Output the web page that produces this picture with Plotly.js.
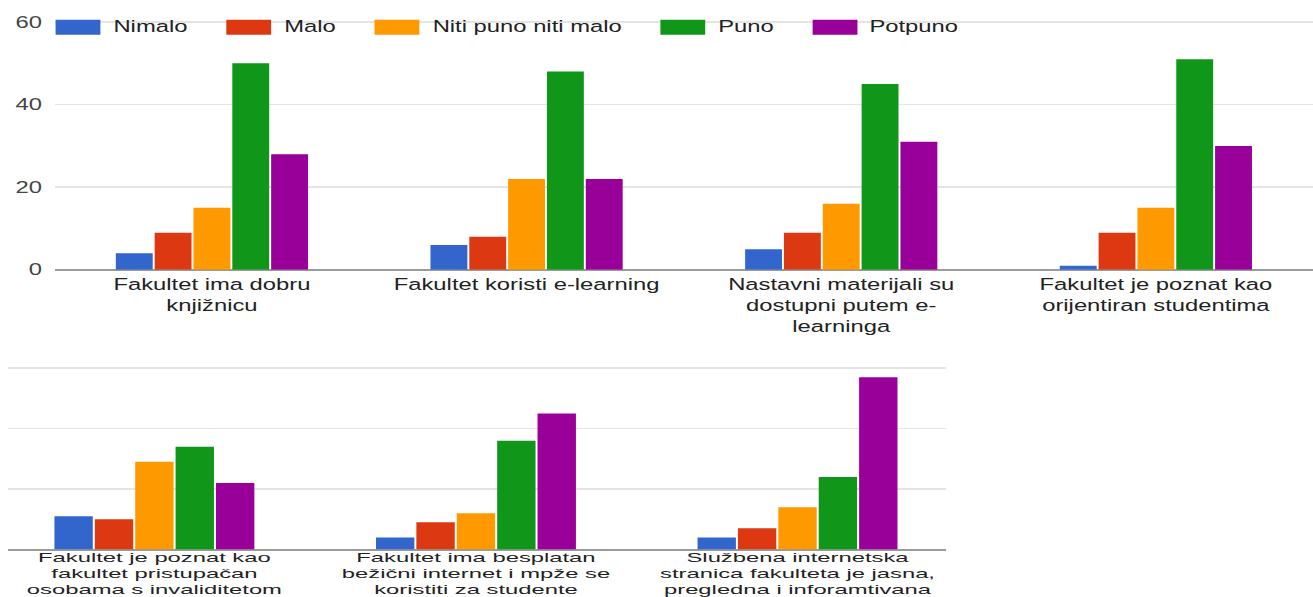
<!DOCTYPE html>
<html>
<head>
<meta charset="utf-8">
<script src="https://cdn.plot.ly/plotly-3.0.1.min.js"></script>
<style>
html, body { margin:0; padding:0; background:#fff; width:1313px; height:597px; overflow:hidden; }
.panel { position:absolute; left:0; transform-origin:0 0; }
#top { top:0; width:938px; height:358px; transform:scale(1.4, 0.95); }
#bottom { top:340px; width:938px; height:357px; transform:scale(1.4, 0.72); }
</style>
</head>
<body>
<div id="top" class="panel"></div>
<div id="bottom" class="panel"></div>
<script>
// ---- data ----
const seriesNames = ['Nimalo', 'Malo', 'Niti puno niti malo', 'Puno', 'Potpuno'];
const categories = [
  'Fakultet ima dobru<br>knjižnicu',
  'Fakultet koristi e-learning',
  'Nastavni materijali su<br>dostupni putem e-<br>learninga',
  'Fakultet je poznat kao<br>orijentiran studentima',
  'Fakultet je poznat kao<br>fakultet pristupačan<br>osobama s invaliditetom',
  'Fakultet ima besplatan<br>bežični internet i mpže se<br>koristiti za studente',
  'Službena internetska<br>stranica fakulteta je jasna,<br>pregledna i inforamtivana'
];
const nimalo  = [4, 6, 5, 1, 11, 4, 4];
const malo    = [9, 8, 9, 9, 10, 9, 7];
const niti    = [15, 22, 16, 15, 29, 12, 14];
const puno    = [50, 48, 45, 51, 34, 36, 24];
const potpuno = [28, 22, 31, 30, 22, 45, 57];
const yTicks  = [0, 20, 40, 60];

// ---- style ----
const colors = ['#3366cc', '#dc3912', '#ff9900', '#109618', '#990099'];
const FONT = 'Liberation Sans, Arial, sans-serif';
const FS = 17;
const values = [nimalo, malo, niti, puno, potpuno];
const topCats = categories.slice(0, 4);
const botCats = categories.slice(4);

function traces(cats, from, to) {
  return seriesNames.map((name, i) => ({
    type: 'bar', name: name, x: cats, y: values[i].slice(from, to),
    marker: { color: colors[i], line: { width: 0 } },
    hoverinfo: 'none'
  }));
}

// ---- top panel geometry (unscaled px) ----
const W = 938, H1 = 358;
const m1 = { l: 39.3, r: 0, t: 20.6, b: 73.8 };
const pw1 = W - m1.l - m1.r, ph1 = H1 - m1.t - m1.b;
const yMax = 60.5;
const toPX = px => (px - m1.l) / pw1;
const toPY = py => (H1 - m1.b - py) / ph1;

// custom legend built from the series names
const ctx = document.createElement('canvas').getContext('2d');
ctx.font = FS + 'px "Liberation Sans", Arial, sans-serif';
const shapes = [], annotations = [];
let lx = 40;
const swW = 32, swTop = 20.3, swBot = 36.1;
seriesNames.forEach((name, i) => {
  shapes.push({ type: 'rect', xref: 'paper', yref: 'paper',
    x0: toPX(lx), x1: toPX(lx + swW), y0: toPY(swBot), y1: toPY(swTop),
    fillcolor: colors[i], line: { width: 0 }, layer: 'above' });
  const tx = lx + swW + 9;
  annotations.push({ xref: 'paper', yref: 'paper', x: toPX(tx - 2), y: toPY((swTop + swBot) / 2),
    xanchor: 'left', yanchor: 'middle', showarrow: false, text: name,
    font: { family: FONT, size: FS, color: '#222' }, bgcolor: 'rgba(0,0,0,0)' });
  lx = tx + ctx.measureText(name).width + 28;
});

const common = {
  barmode: 'group', bargroupgap: 0.05, showlegend: false,
  paper_bgcolor: '#fff', plot_bgcolor: '#fff',
  font: { family: FONT, size: FS, color: '#222' }
};

const layoutTop = Object.assign({}, common, {
  width: W, height: H1, margin: m1, bargap: 0.383,
  xaxis: { type: 'category', range: [-0.5, 3.5], showgrid: false, zeroline: false, showline: false,
    ticks: '', tickangle: 0, tickfont: { family: FONT, size: FS, color: '#222' }, ticklabelstandoff: 3, fixedrange: true },
  yaxis: { range: [0, yMax], tickvals: yTicks, ticktext: yTicks.map(String), gridcolor: '#e4e4e4', gridwidth: 1.6,
    zeroline: true, zerolinecolor: '#9a9a9a', zerolinewidth: 2.1, ticks: '', showline: false,
    tickfont: { family: FONT, size: FS, color: '#444' }, ticklabelstandoff: 8, fixedrange: true },
  shapes: shapes, annotations: annotations
});

const H2 = 357;
const layoutBot = Object.assign({}, common, {
  width: W, height: H2, margin: { l: 5.7, r: 262.3, t: 36.8, b: 66 }, bargap: 0.372,
  xaxis: { type: 'category', range: [-0.454, 2.463], showgrid: false, zeroline: false, showline: false,
    ticks: '', tickangle: 0, tickfont: { family: FONT, size: FS, color: '#222' }, ticklabelstandoff: 0, fixedrange: true },
  yaxis: { range: [0, yMax], tickvals: yTicks, showticklabels: false, gridcolor: '#e4e4e4', gridwidth: 2.3,
    zeroline: true, zerolinecolor: '#9a9a9a', zerolinewidth: 2.8, ticks: '', showline: false, fixedrange: true }
});

const cfg = { staticPlot: true, displayModeBar: false };
Plotly.newPlot('top', traces(topCats, 0, 4), layoutTop, cfg);
Plotly.newPlot('bottom', traces(botCats, 4, 7), layoutBot, cfg);
</script>
</body>
</html>
